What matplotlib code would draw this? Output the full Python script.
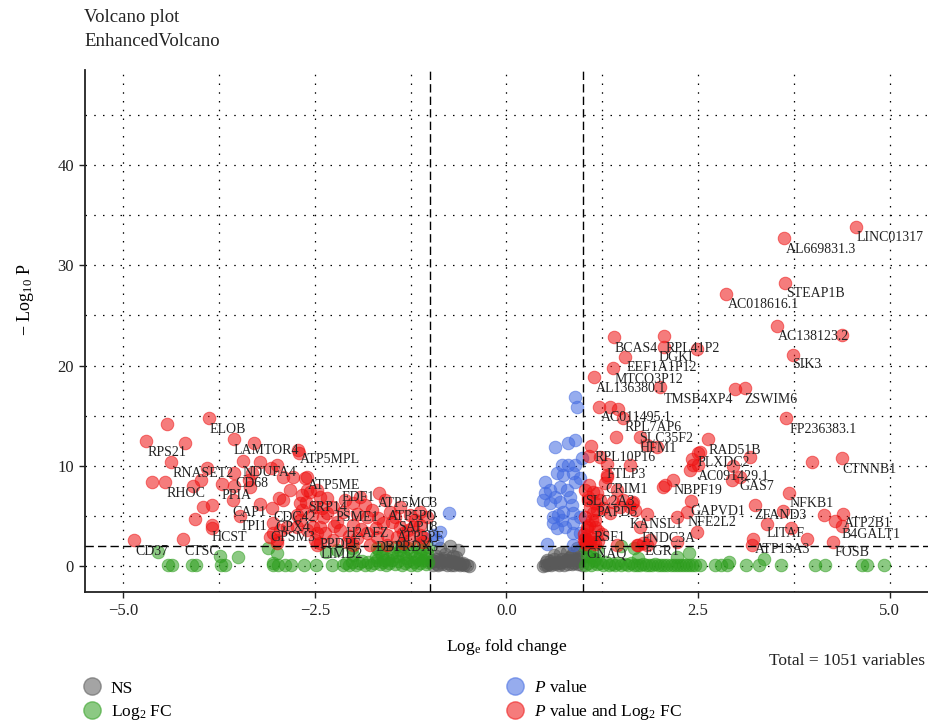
import numpy as np
import matplotlib.pyplot as plt
from matplotlib.lines import Line2D

plt.rcParams['font.family'] = ['Liberation Serif', 'DejaVu Serif']
plt.rcParams['mathtext.fontset'] = 'custom'
plt.rcParams['mathtext.rm'] = 'Liberation Serif'
plt.rcParams['mathtext.it'] = 'Liberation Serif:italic'

# (log fold change, -log10 p) per significance group
ns_points = [
    (-0.99, 0.35), (-0.96, 0.12), (-0.94, 0.48), (-0.91, 0.22), (-0.89, 0.05), (-0.86, 0.41),
    (-0.84, 0.18), (-0.81, 0.55), (-0.78, 0.09), (-0.76, 0.31), (-0.73, 0.14), (-0.71, 0.46),
    (-0.68, 0.06), (-0.66, 0.27), (-0.63, 0.19), (-0.61, 0.08), (-0.58, 0.15), (-0.55, 0.05),
    (-0.52, 0.10), (-0.49, 0.03), (-0.97, 0.62), (-0.92, 0.70), (-0.87, 0.58), (-0.82, 0.75),
    (-0.77, 0.64), (-0.72, 0.52), (-0.67, 0.40), (-0.62, 0.33), (-0.57, 0.28),
    (-0.74, 1.99), (-0.63, 1.60), (-0.70, 1.00), (-0.87, 1.80), (-0.80, 1.20), (-0.92, 0.95),
    (-0.66, 0.90),
    (0.47, 0.04), (0.50, 0.12), (0.53, 0.07), (0.55, 0.20), (0.58, 0.10), (0.60, 0.31),
    (0.63, 0.15), (0.65, 0.42), (0.68, 0.08), (0.70, 0.26), (0.73, 0.37), (0.75, 0.11),
    (0.78, 0.49), (0.80, 0.22), (0.83, 0.55), (0.85, 0.16), (0.88, 0.33), (0.90, 0.61),
    (0.93, 0.24), (0.95, 0.45), (0.98, 0.13), (0.52, 0.38), (0.57, 0.52), (0.62, 0.66),
    (0.67, 0.29), (0.72, 0.71), (0.77, 0.58), (0.82, 0.80), (0.87, 0.44), (0.92, 0.69),
    (0.97, 0.90), (0.53, 0.60), (0.70, 1.30), (0.79, 1.40), (0.87, 1.30), (0.92, 1.79),
    (0.62, 1.05), (0.84, 0.95), (0.96, 1.60),
]

fc_points = [
    # dense band left of -1
    (-2.13, 0.08), (-2.09, 0.31), (-2.05, 0.12), (-2.01, 0.44), (-1.97, 0.05), (-1.93, 0.26),
    (-1.89, 0.50), (-1.85, 0.14), (-1.81, 0.37), (-1.77, 0.07), (-1.73, 0.29), (-1.69, 0.55),
    (-1.65, 0.18), (-1.61, 0.41), (-1.57, 0.09), (-1.53, 0.33), (-1.49, 0.60), (-1.45, 0.16),
    (-1.41, 0.46), (-1.37, 0.06), (-1.33, 0.28), (-1.29, 0.52), (-1.25, 0.13), (-1.21, 0.39),
    (-1.17, 0.08), (-1.13, 0.30), (-1.09, 0.57), (-1.05, 0.19), (-1.02, 0.42),
    (-1.70, 0.90), (-1.66, 1.50), (-1.62, 1.10), (-1.58, 1.80), (-1.55, 0.70), (-1.50, 1.30),
    (-1.46, 1.90), (-1.43, 0.95), (-1.39, 1.60), (-1.35, 1.15), (-1.31, 0.75), (-1.28, 1.75),
    (-1.24, 1.35), (-1.20, 0.85), (-1.17, 1.90), (-1.13, 1.20), (-1.10, 1.55), (-1.06, 0.80),
    (-1.03, 1.85), (-1.04, 1.30), (-1.15, 0.65), (-1.37, 1.95), (-1.60, 0.60),
    (-2.36, 1.40), (-2.21, 1.60), (-2.01, 1.80), (-2.00, 1.10), (-1.69, 1.80),
    # scattered left
    (-4.42, 0.05), (-4.37, 0.05), (-4.11, 0.05), (-4.05, 0.05), (-3.73, 0.05), (-3.67, 0.05),
    (-3.05, 0.05), (-2.98, 0.05), (-2.89, 0.08), (-2.81, 0.05), (-2.64, 0.05), (-2.48, 0.05),
    (-2.28, 0.05), (-4.55, 1.40), (-3.74, 1.00), (-3.50, 0.90), (-3.11, 1.79), (-3.00, 1.30),
    (-3.05, 0.30),
    # dense band right of 1
    (1.02, 0.10), (1.06, 0.34), (1.10, 0.07), (1.14, 0.45), (1.18, 0.15), (1.22, 0.28),
    (1.26, 0.05), (1.30, 0.39), (1.34, 0.12), (1.38, 0.22), (1.42, 0.06), (1.46, 0.31),
    (1.50, 0.09), (1.54, 0.18), (1.58, 0.05), (1.62, 0.26), (1.66, 0.08), (1.70, 0.14),
    (1.74, 0.05), (1.78, 0.21), (1.82, 0.07), (1.86, 0.12), (1.90, 0.05), (1.94, 0.17),
    (1.98, 0.06), (2.02, 0.10), (2.06, 0.05), (2.10, 0.13), (2.14, 0.05), (2.18, 0.09),
    (2.22, 0.05), (2.26, 0.11), (2.30, 0.05), (2.34, 0.08), (2.38, 0.05), (2.42, 0.07),
    (2.46, 0.05), (2.52, 0.05),
    (1.03, 1.90), (1.08, 1.40), (1.12, 0.90), (1.05, 1.00), (1.18, 1.60), (1.16, 0.70),
    (1.72, 0.80), (2.23, 0.90), (2.38, 1.30), (1.50, 1.95), (1.66, 1.80),
    # scattered right
    (2.72, 0.05), (2.80, 0.05), (2.88, 0.05), (2.90, 0.40), (3.12, 0.05), (3.30, 0.05),
    (3.36, 0.70), (3.58, 0.05), (4.02, 0.05), (4.15, 0.05), (4.64, 0.05), (4.70, 0.05),
    (4.92, 0.05),
]

p_points = [
    (-0.75, 5.28), (-0.96, 3.09), (-0.91, 2.59), (-0.87, 3.39),
    (0.89, 16.85), (0.92, 15.85), (0.63, 11.86), (0.80, 12.26), (0.89, 12.56), (0.99, 10.77),
    (0.72, 10.07), (0.80, 10.07), (0.89, 10.07), (0.66, 9.27), (0.74, 9.07), (0.87, 9.27),
    (0.96, 8.77), (0.89, 8.37), (0.50, 8.37), (0.57, 7.58), (0.70, 7.88), (0.79, 7.58),
    (0.50, 7.28), (0.63, 6.88), (0.48, 6.58), (0.57, 6.28), (0.70, 6.38), (0.83, 6.88),
    (0.86, 6.08), (0.87, 5.28), (0.74, 5.38), (0.67, 5.08), (0.61, 4.89), (0.72, 4.59),
    (0.61, 4.29), (0.76, 3.89), (0.87, 4.29), (0.96, 4.89), (0.66, 3.79), (0.87, 3.29),
    (0.96, 3.29), (0.53, 2.19), (0.87, 2.09),
]

sig_points = [
    # down-regulated
    (-3.88, 14.76), (-4.43, 14.16), (-4.71, 12.46), (-4.20, 12.26), (-3.56, 12.66), (-3.30, 12.26),
    (-4.38, 10.37), (-3.44, 10.47), (-3.21, 10.37), (-3.00, 10.07), (-2.72, 11.57), (-2.71, 11.27),
    (-3.91, 9.77), (-3.98, 8.57), (-3.56, 9.27), (-4.63, 8.37), (-4.45, 8.37), (-4.09, 7.98),
    (-3.71, 8.18), (-3.56, 7.98), (-3.35, 7.88), (-3.36, 8.57), (-3.32, 9.27), (-3.07, 9.77),
    (-2.92, 8.87), (-2.63, 8.77), (-2.83, 7.58), (-3.57, 6.58), (-3.96, 5.88), (-3.84, 6.08),
    (-3.21, 6.18), (-3.06, 5.78), (-2.92, 6.58), (-4.07, 4.69), (-3.48, 4.99), (-3.84, 4.09),
    (-3.84, 3.79), (-4.86, 2.59), (-4.22, 2.69), (-3.05, 4.29), (-3.05, 3.29), (-3.00, 2.59),
    (-2.70, 6.28), (-2.67, 7.08), (-2.60, 7.58), (-2.97, 6.78), (-2.78, 8.87), (-2.60, 8.87),
    (-2.56, 7.38), (-2.61, 6.38), (-2.47, 7.58), (-2.43, 6.88), (-2.50, 5.88), (-2.67, 5.58),
    (-2.73, 5.08), (-2.54, 5.08), (-2.41, 5.78), (-2.34, 5.28), (-3.09, 2.89), (-2.96, 3.59),
    (-2.87, 3.89), (-2.73, 3.89), (-2.70, 4.59), (-2.60, 3.59), (-2.52, 3.89), (-2.47, 3.29),
    (-2.43, 3.89), (-2.50, 2.59), (-2.47, 2.09), (-2.43, 2.29), (-3.00, 2.29), (-1.66, 7.28),
    (-1.91, 6.88), (-2.00, 6.28), (-2.34, 6.78), (-2.27, 5.88), (-2.13, 5.38), (-2.40, 4.89),
    (-2.21, 4.39), (-2.00, 4.09), (-1.82, 4.89), (-1.68, 4.79), (-1.61, 4.29), (-1.49, 4.39),
    (-1.39, 3.89), (-1.29, 3.59), (-1.35, 3.29), (-1.22, 3.89), (-1.13, 4.09), (-1.39, 5.88),
    (-1.13, 5.38), (-1.04, 4.89), (-1.43, 2.89), (-1.56, 3.09), (-1.69, 2.89), (-1.82, 3.29),
    (-1.95, 2.79), (-2.08, 2.39), (-2.27, 2.59), (-2.37, 3.29), (-2.17, 3.59), (-1.26, 2.59),
    (-1.13, 3.09), (-1.09, 2.39), (-1.35, 2.29), (-1.56, 2.09), (-1.78, 2.09), (-2.00, 2.10),
    (-1.09, 2.89), (-2.11, 6.58), (-1.85, 6.08), (-1.52, 5.38), (-1.26, 5.08), (-1.59, 6.58),
    (-1.75, 5.60), (-1.95, 5.20), (-2.25, 4.00), (-1.45, 4.90), (-1.70, 3.80), (-1.90, 3.70),
    (-2.05, 3.00), (-1.20, 4.60),
    # up-regulated
    (1.40, 22.83), (2.06, 22.93), (2.06, 21.83), (2.49, 21.64), (1.55, 20.84), (1.39, 19.74),
    (1.14, 18.84), (2.00, 17.85), (2.98, 17.65), (3.11, 17.75), (1.21, 15.85), (1.35, 15.85),
    (1.46, 15.65), (1.52, 14.76), (1.43, 12.86), (1.74, 12.86), (1.96, 11.86), (2.63, 12.66),
    (1.10, 11.96), (1.08, 10.97), (1.31, 10.17), (1.61, 10.07), (2.42, 10.67), (2.50, 11.27),
    (2.43, 10.07), (1.83, 12.06), (1.31, 9.07), (1.08, 8.08), (2.07, 8.08), (2.17, 8.57),
    (1.02, 7.58), (1.18, 7.28), (1.22, 6.58), (1.39, 6.38), (1.52, 6.58), (1.64, 6.28),
    (1.68, 5.58), (1.06, 6.58), (1.09, 5.88), (1.18, 5.58), (1.35, 5.28), (1.61, 5.88),
    (2.41, 6.48), (1.83, 5.18), (2.36, 5.38), (1.12, 4.59), (1.05, 3.59), (1.16, 3.89),
    (1.74, 3.89), (2.49, 3.39), (1.02, 2.79), (1.02, 2.39), (1.06, 2.59), (1.13, 2.39),
    (1.44, 2.09), (1.70, 2.09), (1.78, 2.29), (1.83, 2.09), (1.87, 2.59), (2.04, 7.88),
    (1.31, 8.87), (1.29, 8.28), (1.13, 7.38), (1.06, 6.88), (1.44, 7.58), (1.65, 6.38),
    (1.16, 6.28), (1.26, 5.78), (1.13, 5.28), (2.23, 4.89), (1.48, 5.88), (1.05, 3.89),
    (1.16, 4.59), (1.01, 2.59), (1.09, 2.39), (1.72, 2.09), (2.23, 2.39), (1.22, 10.87),
    (2.50, 10.07), (2.40, 9.57), (1.04, 2.15), (1.10, 2.75), (1.15, 2.20), (1.20, 2.50),
    (1.25, 3.20), (1.01, 3.20), (1.08, 4.10), (1.03, 4.90), (1.20, 3.50),
    (4.56, 33.80), (3.62, 32.70), (3.64, 28.22), (2.87, 27.12), (3.53, 23.93), (4.38, 23.03),
    (3.74, 21.04), (3.65, 14.76), (2.53, 11.37), (3.18, 10.87), (2.96, 9.97), (3.99, 10.37),
    (4.38, 10.77), (2.94, 8.57), (3.05, 8.87), (3.69, 7.28), (3.24, 6.08), (3.61, 5.48),
    (4.14, 5.08), (4.39, 5.18), (4.28, 4.49), (4.38, 3.99), (3.40, 4.19), (3.71, 3.79),
    (3.92, 2.69), (3.22, 2.69), (3.20, 2.09), (4.26, 2.39),
]

gene_labels = [
    'ELOB', 'RPS21', 'LAMTOR4', 'ATP5MPL', 'RNASET2', 'NDUFA4', 'CD68', 'RHOC', 'PPIA',
    'CAP1', 'TPI1', 'CDC42', 'GPX4', 'GPSM3', 'HCST', 'CD37', 'CTSC', 'ATP5ME', 'EDF1',
    'SRP14', 'PSME1', 'ATP5MC3', 'ATP5PO', 'SAP18', 'ATP5PF', 'H2AFZ', 'PPDPF', 'DBI',
    'PRDX5', 'LIMD2',
    'BCAS4', 'RPL41P2', 'DGKI', 'EEF1A1P12', 'MTCO3P12', 'AL136380.1', 'TMSB4XP4',
    'AC011495.1', 'RPL7AP6', 'SLC35F2', 'HFM1', 'RPL10P16', 'RAD51B', 'PLXDC2',
    'AC091429.1', 'GAS7', 'FTLP3', 'CRIM1', 'NBPF19', 'SLC2A3', 'PAPD5', 'GAPVD1',
    'NFE2L2', 'KANSL1', 'RSF1', 'FNDC3A', 'GNAQ', 'EGR1', 'LINC01317', 'AL669831.3',
    'STEAP1B', 'AC018616.1', 'AC138123.2', 'SIK3', 'ZSWIM6', 'FP236383.1', 'CTNNB1',
    'NFKB1', 'ZFAND3', 'ATP2B1', 'LITAF', 'B4GALT1', 'ATP13A3', 'FOSB',
]

# where each gene name sits (repelled text positions, data units)
label_pos = [
    (-3.64, 13.66), (-4.43, 11.37), (-3.14, 11.57), (-2.31, 10.67), (-3.96, 9.27),
    (-3.09, 9.37), (-3.32, 8.18), (-4.18, 7.28), (-3.52, 7.08), (-3.35, 5.38),
    (-3.30, 3.89), (-2.76, 4.79), (-2.79, 3.79), (-2.79, 2.79), (-3.62, 2.79),
    (-4.63, 1.40), (-3.98, 1.40), (-2.25, 7.98), (-1.94, 6.88), (-2.34, 5.88),
    (-1.95, 4.79), (-1.29, 6.28), (-1.23, 4.89), (-1.16, 3.79), (-1.13, 2.79),
    (-1.82, 3.19), (-2.17, 2.19), (-1.55, 1.89), (-1.17, 1.89), (-2.15, 1.10),
    (1.69, 21.73), (2.43, 21.73), (2.21, 20.84), (2.03, 19.84), (1.86, 18.64),
    (1.63, 17.75), (2.50, 16.65), (1.70, 14.86), (1.91, 13.86), (2.08, 12.76),
    (1.98, 11.76), (1.55, 10.87), (2.98, 11.57), (2.83, 10.37), (2.96, 8.97),
    (3.26, 7.88), (1.56, 9.17), (1.57, 7.68), (2.50, 7.58), (1.35, 6.48),
    (1.44, 5.38), (2.76, 5.48), (2.68, 4.29), (1.96, 4.09), (1.34, 2.79),
    (2.11, 2.69), (1.30, 1.20), (2.03, 1.40), (5.01, 32.80), (4.11, 31.61),
    (4.03, 27.22), (3.35, 26.12), (4.00, 22.93), (3.92, 20.14), (3.45, 16.65),
    (4.13, 13.66), (4.73, 9.67), (3.98, 6.28), (3.57, 4.99), (4.72, 4.19),
    (3.64, 3.19), (4.76, 3.09), (3.60, 1.69), (4.51, 1.30),
]

total_vars = 1051
fc_cut = 1.0
p_cut = 2.0

groups = [
    ('NS', ns_points, '#595959'),
    (r'Log$_2$ FC', fc_points, '#2e9e1e'),
    (r'$P$ value', p_points, '#4169e1'),
    (r'$P$ value and Log$_2$ FC', sig_points, '#ee1111'),
]

W, H = 929, 726
fig = plt.figure(figsize=(W / 100, H / 100), dpi=100)
ax = fig.add_axes([85 / W, 134 / H, 843 / W, 522 / H])

# dotted background grid
for gx in np.arange(-5, 5.01, 1.25):
    ax.axvline(gx, color='black', lw=0.9, ls=(0, (1.2, 5.8)), zorder=0)
for gy in range(0, 50, 5):
    ax.axhline(gy, color='black', lw=0.9, ls=(0, (1.2, 5.8)), zorder=0)

for name, pts, col in groups:
    arr = np.array(pts)
    ax.scatter(arr[:, 0], arr[:, 1], s=82, color=col, alpha=0.55,
               edgecolors=col, linewidths=0.7, zorder=2)

# cut-off lines
for xv in (-fc_cut, fc_cut):
    ax.axvline(xv, color='black', lw=1.0, ls=(0, (6, 3)), zorder=3)
ax.axhline(p_cut, color='black', lw=1.0, ls=(0, (6, 3)), zorder=3)

for name, (lx, ly) in zip(gene_labels, label_pos):
    ax.text(lx, ly, name, fontsize=10, ha='center', va='center',
            color='#222222', zorder=5)

ax.set_xlim(-5.5, 5.5)
ax.set_ylim(-2.6, 49.5)
ax.set_xticks([-5, -2.5, 0, 2.5, 5])
ax.set_xticklabels(['\u22125.0', '\u22122.5', '0.0', '2.5', '5.0'])
ax.set_yticks([0, 10, 20, 30, 40])
ax.tick_params(labelsize=12, length=4, width=1, colors='#222222', pad=4)
for side in ('top', 'right'):
    ax.spines[side].set_visible(False)
for side in ('left', 'bottom'):
    ax.spines[side].set_linewidth(1.3)
    ax.spines[side].set_color('#222222')

ax.set_xlabel(r'Log$_{\mathrm{e}}$ fold change', fontsize=12.5)
ax.xaxis.set_label_coords(0.5, -0.086)
ax.set_ylabel(r'$-$ Log$_{10}$ P', fontsize=13)
ax.yaxis.set_label_coords(-0.058, 0.56)

fig.text(84 / W, 1 - 18 / H, 'Volcano plot', fontsize=13.5, va='center', color='#222222')
fig.text(84 / W, 1 - 42 / H, 'EnhancedVolcano', fontsize=13.5, va='center', color='#222222')
fig.text(925 / W, 1 - 661 / H, f'Total = {total_vars} variables', fontsize=12.5,
         ha='right', va='center', color='#222222')

handles = [Line2D([], [], ls='none', marker='o', ms=12.5, mfc=col, mec=col, alpha=0.55)
           for _, _, col in groups]
names = [g[0] for g in groups]
leg_kw = dict(loc='center left', frameon=False, fontsize=12.5, handlelength=1.0,
              handletextpad=0.6, labelspacing=0.35, borderpad=0, borderaxespad=0)
fig.legend(handles[:2], names[:2], bbox_to_anchor=(83 / W, 1 - 701 / H), **leg_kw)
fig.legend(handles[2:], names[2:], bbox_to_anchor=(506 / W, 1 - 701 / H), **leg_kw)

fig.savefig('out.png', dpi=100)
